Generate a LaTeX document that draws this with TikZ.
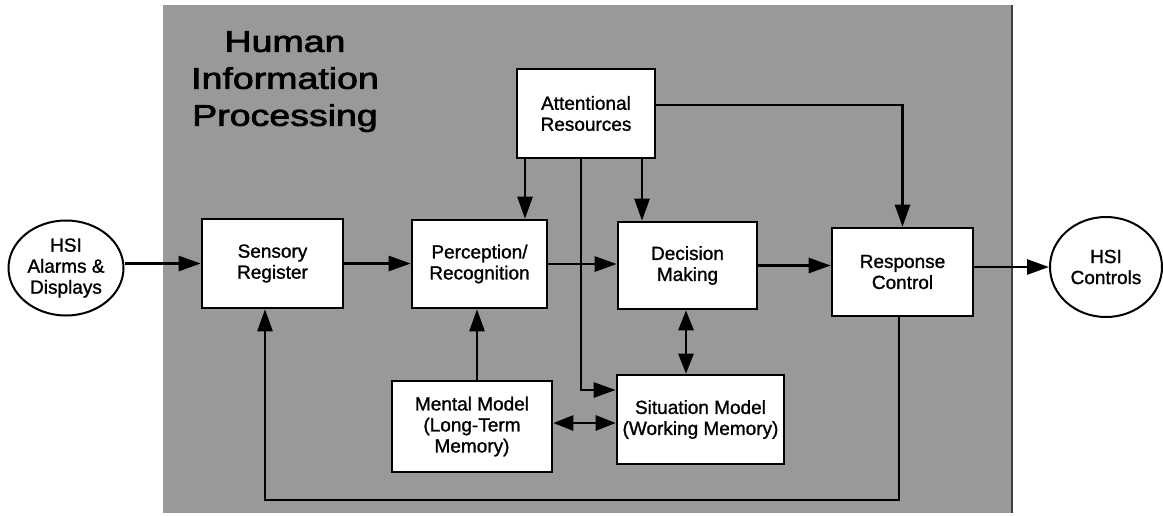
\documentclass[tikz,border=0pt]{standalone}
\usepackage{graphicx}
\usepackage{fontspec}
\setmainfont{Liberation Sans}[BoldFont={Liberation Sans}, BoldFeatures={FakeBold=1.2}]
\newfontfamily\titlefont{Liberation Sans}[FakeBold=2.2]
\usetikzlibrary{arrows.meta,shapes.geometric}
\begin{document}
\begin{tikzpicture}[x=1pt,y=-1pt,
  stage/.style={draw=black, fill=white, line width=2.6pt, rectangle, align=center,
    font=\fontsize{19}{21}\selectfont\bfseries, inner sep=0pt},
  terminal/.style={draw=black, fill=white, line width=2pt, ellipse, align=center,
    font=\fontsize{19}{21}\selectfont\bfseries, inner sep=0pt},
  flow/.style={line width=2.6pt, -{Triangle[length=22pt,width=15pt]}},
  twoway/.style={line width=2.6pt, {Triangle[length=20pt,width=15pt]}-{Triangle[length=20pt,width=15pt]}}
]
\useasboundingbox (0,0) rectangle (1163,515);

% shaded processing area
\fill[black!40] (163,5) rectangle (1013,513);
\draw[black!75, line width=2pt] (1012,5) -- (1012,513);

% title
\node[font=\titlefont\fontsize{30}{37}\selectfont, align=center, anchor=north, inner sep=0pt]
  (title) at (285,31)
  {\scalebox{1.25}[1]{Human}\\\scalebox{1.25}[1]{Information}\\\scalebox{1.25}[1]{Processing}};

% external interfaces
\node[terminal, minimum width=115pt, minimum height=95pt] (alarms) at (66,268) {HSI\\Alarms \&\\Displays};
\node[terminal, minimum width=112pt, minimum height=100pt] (controls) at (1106,267) {HSI\\Controls};

% processing stages
\node[stage, minimum width=141pt, minimum height=89pt] (sensory) at (272.5,263.5) {Sensory\\Register};
\node[stage, minimum width=135pt, minimum height=88pt] (percep) at (479.5,264) {Perception/\\Recognition};
\node[stage, minimum width=138pt, minimum height=89pt] (attn) at (586,113.5) {Attentional\\Resources};
\node[stage, minimum width=139pt, minimum height=87pt] (decision) at (687.5,265.5) {Decision\\Making};
\node[stage, minimum width=141pt, minimum height=88pt] (response) at (902.5,272) {Response\\Control};
\node[stage, minimum width=160pt, minimum height=91pt] (mental) at (472,426.5) {Mental Model\\(Long-Term\\Memory)};
\node[stage, minimum width=167pt, minimum height=89pt] (situation) at (700.5,419.5) {Situation Model\\(Working Memory)};

% main flow
\draw[flow] (sensory.west -| alarms.east) -- (sensory.west);
\draw[flow] (sensory.east) -- (sensory.east -| percep.west);
\draw[flow] (percep.east) -- (percep.east -| decision.west);
\draw[flow] (decision.east) -- (decision.east -| response.west);
\draw[flow] (controls.west -| response.east) -- (controls.west);

% attention allocation
\draw[flow] ([xshift=-61pt]attn.south) -- ([xshift=-61pt]attn.south |- percep.north);
\draw[flow] ([xshift=56pt]attn.south) -- ([xshift=56pt]attn.south |- decision.north);
\draw[flow] ([xshift=-5pt]attn.south) |- ([yshift=29.5pt]situation.west);
\draw[flow] ([yshift=8.5pt]attn.east) -| (response.north);

% memory links
\draw[flow] ([xshift=5pt]mental.north) -- ([xshift=5pt]mental.north |- percep.south);
\draw[twoway] ([yshift=3.5pt]mental.east) -- ([yshift=3.5pt]mental.east -| situation.west);
\draw[twoway] ([xshift=-1.5pt]decision.south) -- ([xshift=-1.5pt]decision.south |- situation.north);

% feedback loop
\coordinate (loop) at (265,500);
\draw[flow] ([xshift=-3.5pt]response.south) |- (loop) -- (loop |- sensory.south);
\end{tikzpicture}
\end{document}
